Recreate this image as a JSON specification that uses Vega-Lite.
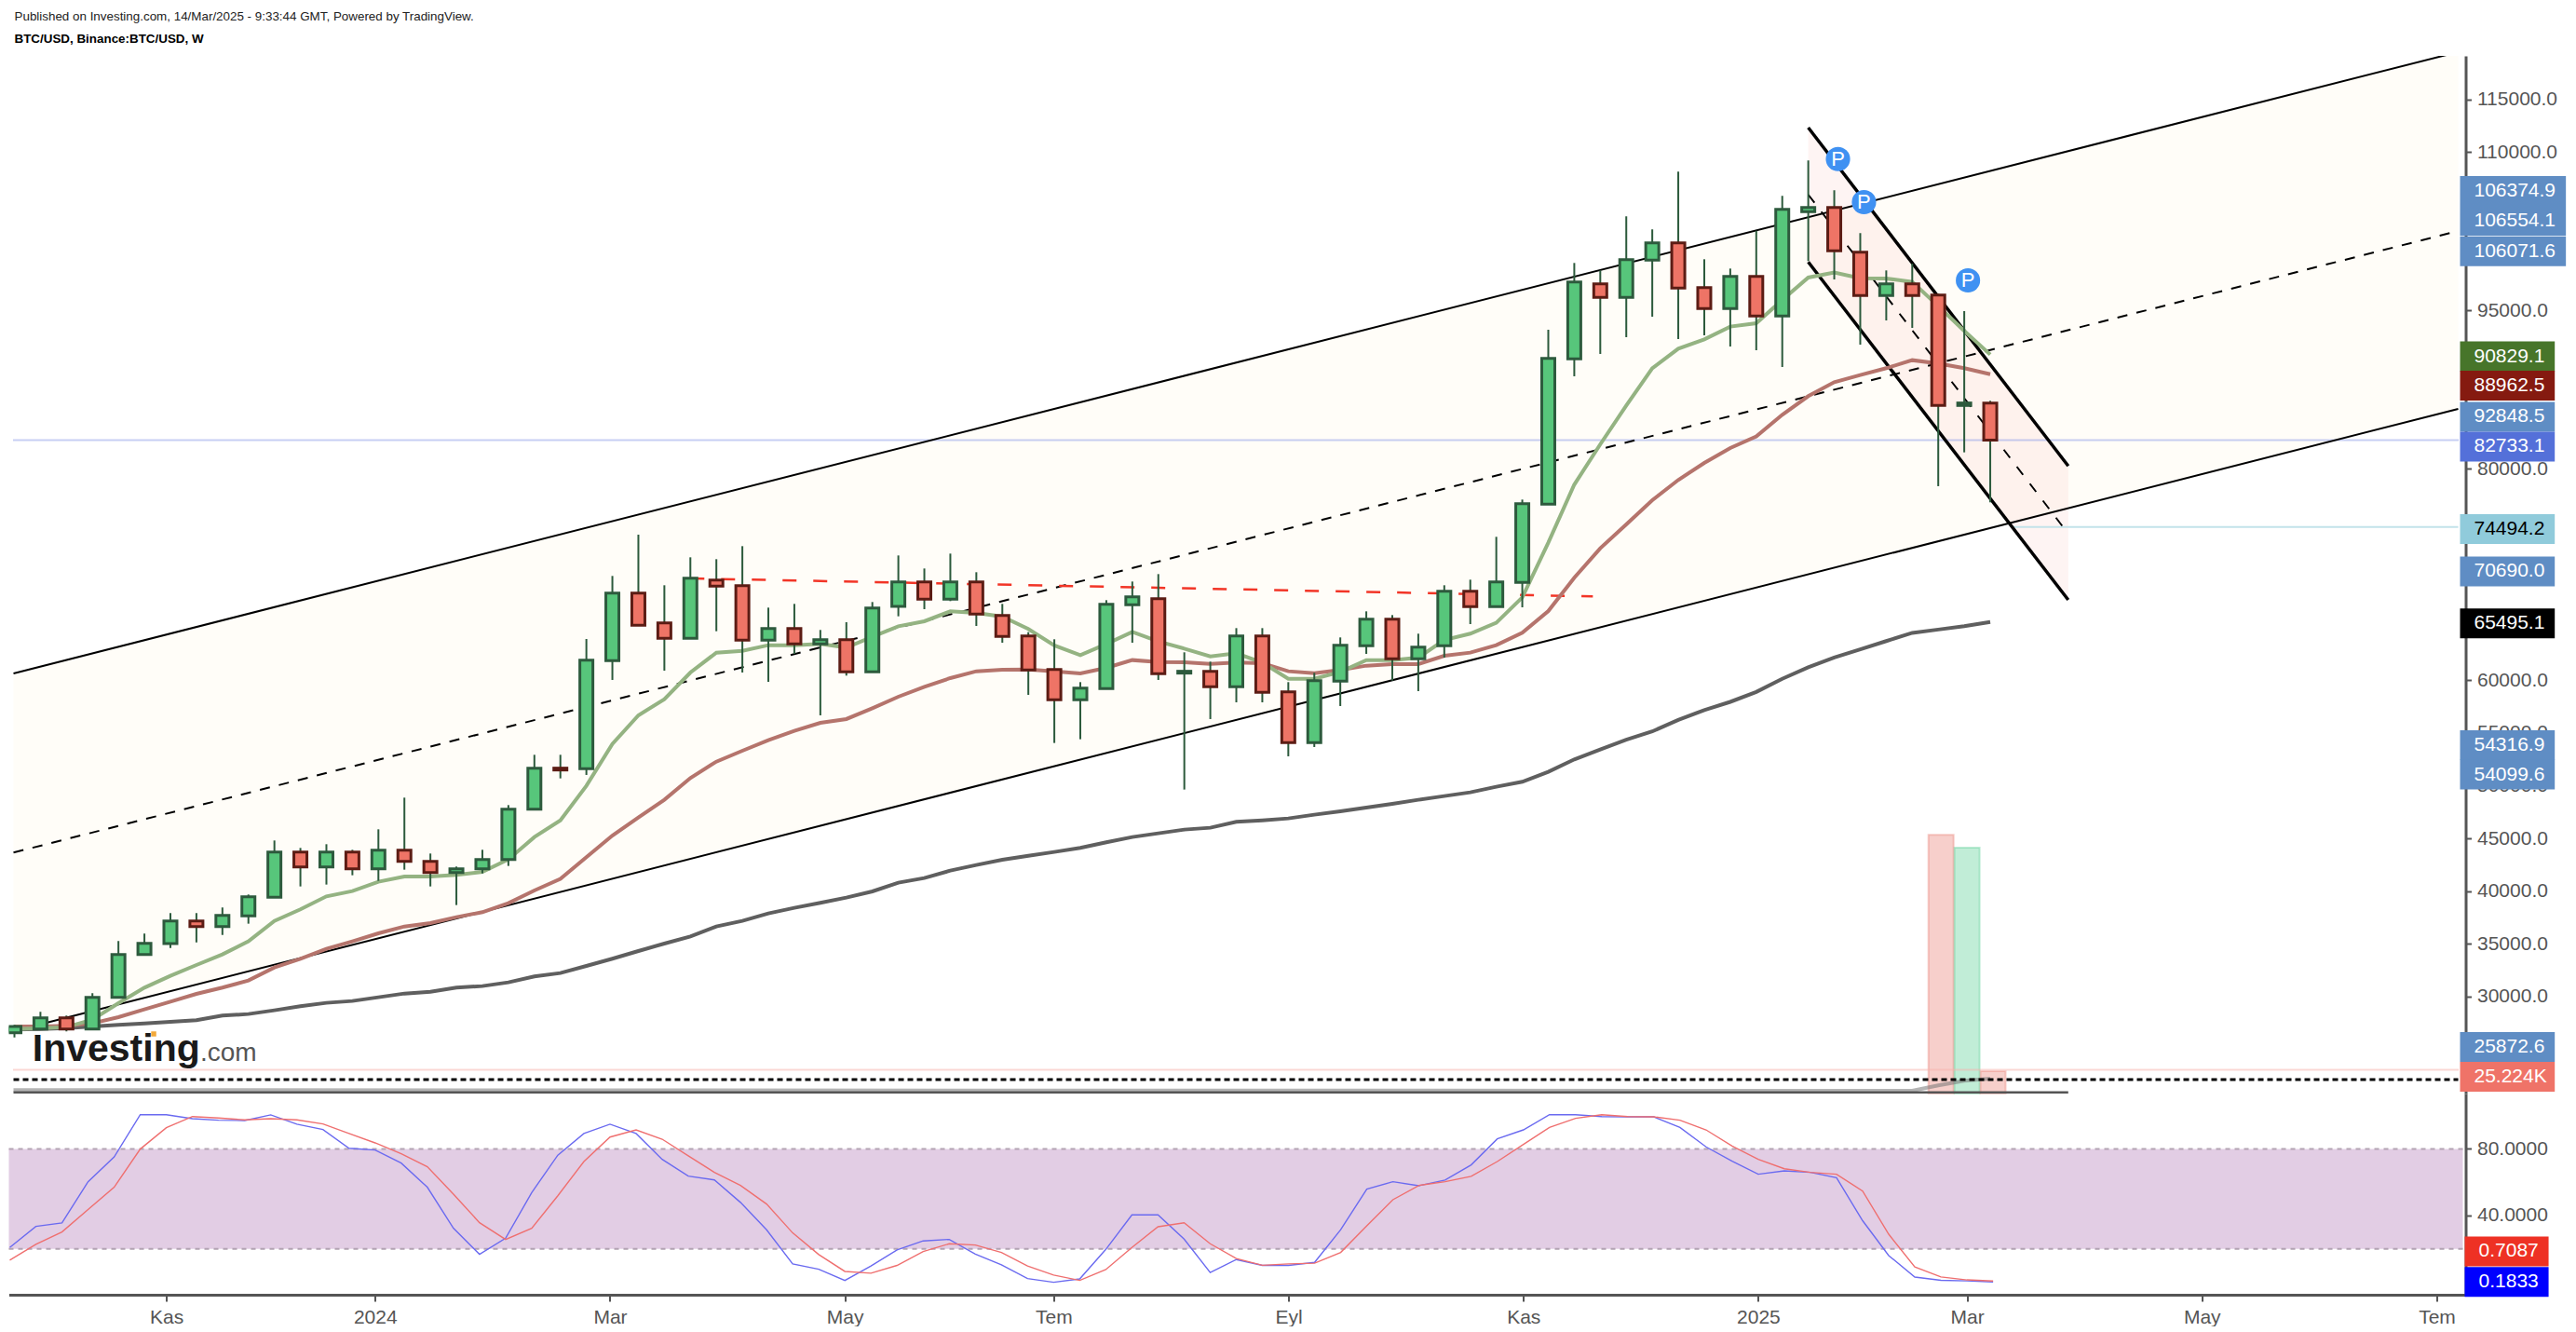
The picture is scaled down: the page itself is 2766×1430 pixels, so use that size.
{
  "$schema": "https://vega.github.io/schema/vega-lite/v6.json",
  "background": "white",
  "padding": {"left": 6.5, "top": 10, "right": 0, "bottom": 0},
  "bounds": "flush",
  "config": {"view": {"stroke": null}, "font": "Liberation Sans"},
  "title": {
    "text": "Published on Investing.com, 14/Mar/2025 - 9:33:44 GMT, Powered by TradingView.",
    "subtitle": "BTC/USD, Binance:BTC/USD, W",
    "anchor": "start", "frame": "group", "dx": 6, "offset": 11.5,
    "font": "Liberation Sans", "fontSize": 13.4, "fontWeight": "normal", "color": "#222222",
    "subtitleFont": "Liberation Sans", "subtitleFontSize": 13.4, "subtitleFontWeight": "bold", "subtitleColor": "#000000", "subtitlePadding": 11
  },
  "datasets": {
    "weeks": [
      {"date":"2023-09-25","o":26591,"h":27326,"l":26150,"c":27179,"ma20":26944,"ma50":27179,"ma200":26886,"k":20.9,"d":13.2},
      {"date":"2023-10-02","o":26944,"h":28562,"l":26944,"c":28003,"ma20":27003,"ma50":27179,"ma200":26944,"k":33.5,"d":22.7},
      {"date":"2023-10-09","o":28003,"h":28209,"l":26709,"c":26944,"ma20":27121,"ma50":27238,"ma200":27032,"k":35.6,"d":30.2},
      {"date":"2023-10-16","o":26944,"h":30326,"l":26944,"c":29944,"ma20":27826,"ma50":27473,"ma200":27179,"k":60.3,"d":43.6},
      {"date":"2023-10-23","o":29944,"h":35267,"l":29944,"c":34003,"ma20":29385,"ma50":28062,"ma200":27326,"k":75.2,"d":57},
      {"date":"2023-10-30","o":34003,"h":35973,"l":33944,"c":35061,"ma20":30855,"ma50":28797,"ma200":27473,"k":100.5,"d":79.9},
      {"date":"2023-11-06","o":35032,"h":37914,"l":34620,"c":37179,"ma20":31973,"ma50":29532,"ma200":27620,"k":100.5,"d":92.7},
      {"date":"2023-11-13","o":37179,"h":37914,"l":35150,"c":36649,"ma20":33002,"ma50":30267,"ma200":27768,"k":98.1,"d":99.4},
      {"date":"2023-11-20","o":36649,"h":38443,"l":35855,"c":37708,"ma20":34003,"ma50":30856,"ma200":28209,"k":97.2,"d":98.5},
      {"date":"2023-11-27","o":37649,"h":39679,"l":36914,"c":39473,"ma20":35248,"ma50":31532,"ma200":28356,"k":97,"d":97.4},
      {"date":"2023-12-04","o":39414,"h":44796,"l":39414,"c":43708,"ma20":37179,"ma50":32767,"ma200":28709,"k":100.4,"d":98.1},
      {"date":"2023-12-11","o":43708,"h":44090,"l":40443,"c":42296,"ma20":38267,"ma50":33591,"ma200":29093,"k":94.8,"d":97.4},
      {"date":"2023-12-18","o":42296,"h":44443,"l":40620,"c":43708,"ma20":39502,"ma50":34532,"ma200":29415,"k":91.6,"d":95},
      {"date":"2023-12-25","o":43708,"h":43914,"l":41502,"c":42120,"ma20":40002,"ma50":35238,"ma200":29591,"k":80.4,"d":89.2},
      {"date":"2024-01-01","o":42120,"h":45855,"l":40973,"c":43884,"ma20":40885,"ma50":36002,"ma200":29944,"k":79.3,"d":83.6},
      {"date":"2024-01-08","o":43884,"h":48855,"l":42031,"c":42826,"ma20":41384,"ma50":36649,"ma200":30297,"k":71.5,"d":77.1},
      {"date":"2024-01-15","o":42826,"h":43561,"l":40443,"c":41767,"ma20":41384,"ma50":36973,"ma200":30473,"k":57,"d":69.3},
      {"date":"2024-01-22","o":41767,"h":42326,"l":38679,"c":42120,"ma20":41532,"ma50":37532,"ma200":30855,"k":32.4,"d":52.9},
      {"date":"2024-01-29","o":42120,"h":43914,"l":41679,"c":43002,"ma20":41826,"ma50":38002,"ma200":31003,"k":16.8,"d":35.7},
      {"date":"2024-02-05","o":43002,"h":48149,"l":42384,"c":47766,"ma20":43002,"ma50":38855,"ma200":31355,"k":26.4,"d":25.7},
      {"date":"2024-02-12","o":47766,"h":52913,"l":47766,"c":51649,"ma20":45119,"ma50":40061,"ma200":31914,"k":53.8,"d":32.4},
      {"date":"2024-02-19","o":51649,"h":52913,"l":50678,"c":51472,"ma20":46707,"ma50":41149,"ma200":32238,"k":76.2,"d":51.9},
      {"date":"2024-02-26","o":51592,"h":63886,"l":51004,"c":61886,"ma20":49975,"ma50":43208,"ma200":32914,"k":89.2,"d":72.4},
      {"date":"2024-03-04","o":61827,"h":69856,"l":60004,"c":68238,"ma20":53945,"ma50":45267,"ma200":33591,"k":94.8,"d":87.1},
      {"date":"2024-03-11","o":68238,"h":73767,"l":65180,"c":65180,"ma20":56651,"ma50":46972,"ma200":34326,"k":89.2,"d":91.4},
      {"date":"2024-03-18","o":65415,"h":68974,"l":60886,"c":63944,"ma20":58180,"ma50":48649,"ma200":35032,"k":73.7,"d":85.8},
      {"date":"2024-03-25","o":63944,"h":71621,"l":63944,"c":69650,"ma20":60709,"ma50":50707,"ma200":35708,"k":63.7,"d":75.8},
      {"date":"2024-04-01","o":69474,"h":71444,"l":64621,"c":68885,"ma20":62592,"ma50":52266,"ma200":36649,"k":61.4,"d":65.9},
      {"date":"2024-04-08","o":68944,"h":72679,"l":60709,"c":63768,"ma20":62768,"ma50":53295,"ma200":37179,"k":47.9,"d":58.1},
      {"date":"2024-04-15","o":63768,"h":66856,"l":59827,"c":64886,"ma20":63297,"ma50":54295,"ma200":37885,"k":31.5,"d":46.9},
      {"date":"2024-04-22","o":64886,"h":67209,"l":62474,"c":63415,"ma20":63297,"ma50":55178,"ma200":38414,"k":11,"d":29.6},
      {"date":"2024-04-29","o":63415,"h":64739,"l":56651,"c":63827,"ma20":63415,"ma50":55945,"ma200":38885,"k":7.8,"d":16.6},
      {"date":"2024-05-06","o":63827,"h":65474,"l":60415,"c":60768,"ma20":63062,"ma50":56298,"ma200":39385,"k":1.1,"d":6.5},
      {"date":"2024-05-13","o":60768,"h":67385,"l":60709,"c":66827,"ma20":64092,"ma50":57327,"ma200":39973,"k":9.7,"d":5.4},
      {"date":"2024-05-20","o":66974,"h":71797,"l":66033,"c":69297,"ma20":65091,"ma50":58415,"ma200":40796,"k":19.4,"d":10.1},
      {"date":"2024-05-27","o":69297,"h":70562,"l":66709,"c":67650,"ma20":65562,"ma50":59357,"ma200":41237,"k":24.8,"d":18.4},
      {"date":"2024-06-03","o":67650,"h":71973,"l":67474,"c":69297,"ma20":66503,"ma50":60180,"ma200":41943,"k":25.7,"d":23.1},
      {"date":"2024-06-10","o":69297,"h":70209,"l":65120,"c":66238,"ma20":66356,"ma50":60827,"ma200":42473,"k":16.9,"d":22.3},
      {"date":"2024-06-17","o":66121,"h":67209,"l":63533,"c":64121,"ma20":66003,"ma50":60974,"ma200":42973,"k":10.4,"d":17.9},
      {"date":"2024-06-24","o":64180,"h":64533,"l":58592,"c":60945,"ma20":64827,"ma50":61003,"ma200":43355,"k":2.2,"d":9.7},
      {"date":"2024-07-01","o":61003,"h":63856,"l":54033,"c":58121,"ma20":63268,"ma50":60827,"ma200":43711,"k":0,"d":4.3},
      {"date":"2024-07-08","o":58121,"h":59798,"l":54386,"c":59239,"ma20":62356,"ma50":60621,"ma200":44093,"k":2,"d":1.1},
      {"date":"2024-07-15","o":59180,"h":67562,"l":59180,"c":67180,"ma20":63415,"ma50":61151,"ma200":44622,"k":19.7,"d":7.6},
      {"date":"2024-07-22","o":67121,"h":69327,"l":63533,"c":67885,"ma20":64562,"ma50":61886,"ma200":45122,"k":40.4,"d":20.9},
      {"date":"2024-07-29","o":67709,"h":70032,"l":60004,"c":60592,"ma20":63650,"ma50":61709,"ma200":45475,"k":40.4,"d":33.3},
      {"date":"2024-08-05","o":60651,"h":62621,"l":49622,"c":60827,"ma20":62974,"ma50":61680,"ma200":45828,"k":25.9,"d":35.7},
      {"date":"2024-08-12","o":60827,"h":61739,"l":56298,"c":59357,"ma20":62239,"ma50":61533,"ma200":46004,"k":5.8,"d":23.1},
      {"date":"2024-08-19","o":59357,"h":64915,"l":57886,"c":64180,"ma20":62533,"ma50":61651,"ma200":46563,"k":13.6,"d":14.2},
      {"date":"2024-08-26","o":64180,"h":64915,"l":57886,"c":58827,"ma20":61651,"ma50":61592,"ma200":46710,"k":10.1,"d":10.2},
      {"date":"2024-09-02","o":58886,"h":59798,"l":52769,"c":54063,"ma20":60121,"ma50":60827,"ma200":46887,"k":10.1,"d":11},
      {"date":"2024-09-09","o":54063,"h":60680,"l":53651,"c":59945,"ma20":60121,"ma50":60651,"ma200":47240,"k":11.9,"d":11.4},
      {"date":"2024-09-16","o":59886,"h":64033,"l":57533,"c":63297,"ma20":60768,"ma50":60945,"ma200":47563,"k":31.5,"d":17.9},
      {"date":"2024-09-23","o":63239,"h":66503,"l":62474,"c":65768,"ma20":61886,"ma50":61356,"ma200":47916,"k":55.9,"d":33.9},
      {"date":"2024-09-30","o":65768,"h":66150,"l":59945,"c":62003,"ma20":61886,"ma50":61503,"ma200":48269,"k":60.3,"d":49.5},
      {"date":"2024-10-07","o":62003,"h":64386,"l":58945,"c":63121,"ma20":62121,"ma50":61503,"ma200":48651,"k":57.9,"d":58.1},
      {"date":"2024-10-14","o":63239,"h":68974,"l":62121,"c":68415,"ma20":63797,"ma50":62298,"ma200":49004,"k":61.3,"d":60.3},
      {"date":"2024-10-21","o":68415,"h":69503,"l":65297,"c":66944,"ma20":64386,"ma50":62592,"ma200":49357,"k":70.4,"d":63.5},
      {"date":"2024-10-28","o":66944,"h":73562,"l":66944,"c":69297,"ma20":65415,"ma50":63297,"ma200":49887,"k":86,"d":72.4},
      {"date":"2024-11-04","o":69238,"h":77091,"l":66885,"c":76708,"ma20":67827,"ma50":64474,"ma200":50357,"k":91.4,"d":82.7},
      {"date":"2024-11-11","o":76653,"h":93182,"l":76653,"c":90476,"ma20":73006,"ma50":66533,"ma200":51298,"k":100.5,"d":92.9},
      {"date":"2024-11-18","o":90417,"h":99505,"l":88770,"c":97711,"ma20":78506,"ma50":69683,"ma200":52475,"k":100.5,"d":98.3},
      {"date":"2024-11-25","o":97534,"h":98799,"l":90888,"c":96240,"ma20":82329,"ma50":72477,"ma200":53415,"k":99.4,"d":100.5},
      {"date":"2024-12-02","o":96240,"h":103916,"l":92476,"c":99828,"ma20":86005,"ma50":74741,"ma200":54349,"k":99.2,"d":99.4},
      {"date":"2024-12-09","o":99769,"h":102681,"l":94417,"c":101416,"ma20":89535,"ma50":77035,"ma200":55127,"k":99.2,"d":99.2},
      {"date":"2024-12-16","o":101416,"h":108151,"l":92299,"c":97122,"ma20":91388,"ma50":78947,"ma200":56217,"k":92.9,"d":97.2},
      {"date":"2024-12-23","o":97181,"h":99858,"l":92652,"c":95181,"ma20":92270,"ma50":80565,"ma200":57151,"k":81.2,"d":91.4},
      {"date":"2024-12-30","o":95181,"h":98975,"l":91593,"c":98240,"ma20":93476,"ma50":81976,"ma200":57929,"k":72.6,"d":81.7},
      {"date":"2025-01-06","o":98240,"h":102563,"l":91240,"c":94476,"ma20":93799,"ma50":83064,"ma200":58863,"k":64.8,"d":73.7},
      {"date":"2025-01-13","o":94476,"h":105857,"l":89652,"c":104593,"ma20":96005,"ma50":85123,"ma200":60108,"k":66.8,"d":68.1},
      {"date":"2025-01-20","o":104357,"h":109210,"l":99681,"c":104769,"ma20":98122,"ma50":86888,"ma200":61198,"k":65.9,"d":65.9},
      {"date":"2025-01-27","o":104769,"h":106387,"l":97946,"c":100652,"ma20":98593,"ma50":88211,"ma200":62131,"k":62.7,"d":64.8},
      {"date":"2025-02-03","o":100534,"h":102328,"l":91770,"c":96417,"ma20":98064,"ma50":88888,"ma200":62910,"k":36.9,"d":54.7},
      {"date":"2025-02-10","o":96417,"h":98799,"l":94064,"c":97534,"ma20":98034,"ma50":89535,"ma200":63688,"k":16,"d":28.8},
      {"date":"2025-02-17","o":97534,"h":99446,"l":93358,"c":96417,"ma20":97711,"ma50":90299,"ma200":64467,"k":3.1,"d":9.2},
      {"date":"2025-02-24","o":96475,"h":96593,"l":78359,"c":86005,"ma20":95417,"ma50":89976,"ma200":64778,"k":1.2,"d":3.2},
      {"date":"2025-03-03","o":86005,"h":94946,"l":81565,"c":86241,"ma20":93064,"ma50":89535,"ma200":65089,"k":0.8,"d":1.4},
      {"date":"2025-03-10","o":86241,"h":86447,"l":76830,"c":82733,"ma20":90829,"ma50":88962,"ma200":65495,"k":0.18,"d":0.71}
    ],
    "channel": [
      {"date":"2023-09-24T18:00:00Z","upper":60619,"mid":43651,"lower":26735},
      {"date":"2025-07-14T00:00:00Z","upper":119494,"mid":102533,"lower":85679}
    ],
    "falling": [
      {"date":"2025-01-20","upper":112328,"mid":105975,"lower":99594},
      {"date":"2025-03-31","upper":80270,"mid":73855,"lower":67590}
    ],
    "resistance": [
      {"date":"2024-03-25","price":69620},
      {"date":"2024-11-23","price":67917}
    ],
    "levels": [
      {"name":"last","price":82733.1,"from":"2023-09-24T18:00:00Z","to":"2025-07-14T00:00:00Z"},
      {"name":"fib","price":74494.2,"from":"2025-03-16T00:00:00Z","to":"2025-07-14T00:00:00Z"}
    ],
    "pivots": [
      {"date":"2025-01-28","price":109354},
      {"date":"2025-02-04","price":105268},
      {"date":"2025-03-04","price":97857}
    ],
    "logo": [
      {"part":"name","label":"Investing","date":"2023-09-29T20:00:00Z","price":23911},
      {"part":"domain","label":".com","date":"2023-11-14T00:00:00Z","price":23911}
    ],
    "logoDot": [
      {"date":"2023-11-01T12:00:00Z","price":26470}
    ],
    "priceTags": [
      {"label":"106374.9","level":106328,"group":"pivot"},
      {"label":"106554.1","level":103504,"group":"pivot"},
      {"label":"106071.6","level":100620,"group":"pivot"},
      {"label":"90829.1","level":90656,"group":"ma20"},
      {"label":"88962.5","level":87895,"group":"ma50"},
      {"label":"92848.5","level":84938,"group":"pivot"},
      {"label":"82733.1","level":82106,"group":"last"},
      {"label":"74494.2","level":74306,"group":"fib"},
      {"label":"70690.0","level":70291,"group":"pivot"},
      {"label":"65495.1","level":65366,"group":"ma200"},
      {"label":"54316.9","level":53834,"group":"pivot"},
      {"label":"54099.6","level":51036,"group":"pivot"},
      {"label":"25872.6","level":25235,"group":"pivot"},
      {"label":"25.224K","level":22411,"group":"volume"}
    ],
    "volumes": [
      {"date":"2025-02-24T18:00:00Z","volume":292000,"side":"down"},
      {"date":"2025-03-03T18:00:00Z","volume":277500,"side":"up"},
      {"date":"2025-03-10T18:00:00Z","volume":25224,"side":"down"}
    ],
    "volumeAvg": [
      {"date":"2023-09-24T18:00:00Z","avg":3900},
      {"date":"2025-02-17","avg":3153},
      {"date":"2025-02-24","avg":9144},
      {"date":"2025-03-03","avg":14399},
      {"date":"2025-03-10","avg":16816}
    ],
    "volumeLevels": [
      {"name":"current","value":26800,"from":"2023-09-24T18:00:00Z","to":"2025-07-14T00:00:00Z"},
      {"name":"average","value":15760,"from":"2023-09-24T18:00:00Z","to":"2025-07-14T00:00:00Z"},
      {"name":"base","value":1300,"from":"2023-09-24T18:00:00Z","to":"2025-03-31T00:00:00Z"}
    ],
    "band": [
      {"from":"2023-09-24T18:00:00Z","to":"2025-07-14T00:00:00Z","lo":20,"hi":80}
    ],
    "oscTags": [
      {"label":"0.7087","level":18.5,"group":"d"},
      {"label":"0.1833","level":0.18,"group":"k"}
    ]
  },
  "spacing": 0,
  "resolve": {"scale": {"color": "independent"}},
  "vconcat": [
    {
      "width": 2638,
      "height": 1114,
      "resolve": {"scale": {"y": "independent"}},
      "layer": [
        {
          "encoding": {
            "x": {
              "field": "date", "type": "temporal", "axis": null,
              "scale": {
                "type": "utc",
                "domain": [
                  {"year":2023,"month":9,"date":24,"hours":18,"utc":true},
                  {"year":2025,"month":7,"date":14,"hours":18,"utc":true}
                ]
              }
            }
          },
          "layer": [
            {
              "data": {"name": "channel"},
              "mark": {"type": "area", "color": "#fffdf8", "clip": true},
              "encoding": {
                "y": {
                  "field": "upper", "type": "quantitative", "title": null,
                  "scale": {"domain": [20823, 119122], "zero": false, "nice": false},
                  "axis": {
                    "orient": "right", "grid": false,
                    "values": [30000,35000,40000,45000,50000,55000,60000,80000,95000,100000,110000,115000],
                    "format": ".1f",
                    "labelFont": "Liberation Sans", "labelFontSize": 21, "labelColor": "#555555", "labelPadding": 6, "labelOverlap": false, "labelFlush": false,
                    "domainColor": "#555555", "domainWidth": 3, "tickColor": "#555555", "tickWidth": 2, "tickSize": 6
                  }
                },
                "y2": {"field": "lower"}
              }
            },
            {
              "data": {"name": "falling"},
              "mark": {"type": "area", "color": "#f7c4bb", "opacity": 0.18, "clip": true},
              "encoding": {"y": {"field": "upper", "type": "quantitative"}, "y2": {"field": "lower"}}
            },
            {
              "data": {"name": "levels"},
              "transform": [{"filter": "datum.name === 'last'"}],
              "mark": {"type": "rule", "color": "#8f9fe8", "strokeWidth": 2, "strokeDash": [1, 1], "clip": true},
              "encoding": {"x": {"field": "from", "type": "temporal"}, "x2": {"field": "to"}, "y": {"field": "price", "type": "quantitative"}}
            },
            {
              "data": {"name": "levels"},
              "transform": [{"filter": "datum.name === 'fib'"}],
              "mark": {"type": "rule", "color": "#c3e3ea", "strokeWidth": 2, "clip": true},
              "encoding": {"x": {"field": "from", "type": "temporal"}, "x2": {"field": "to"}, "y": {"field": "price", "type": "quantitative"}}
            },
            {
              "data": {"name": "channel"},
              "mark": {"type": "line", "color": "#000000", "strokeWidth": 2, "clip": true},
              "encoding": {"y": {"field": "upper", "type": "quantitative"}}
            },
            {
              "data": {"name": "channel"},
              "mark": {"type": "line", "color": "#000000", "strokeWidth": 2, "clip": true},
              "encoding": {"y": {"field": "lower", "type": "quantitative"}}
            },
            {
              "data": {"name": "channel"},
              "mark": {"type": "line", "color": "#000000", "strokeWidth": 2, "strokeDash": [11, 10], "clip": true},
              "encoding": {"y": {"field": "mid", "type": "quantitative"}}
            },
            {
              "data": {"name": "resistance"},
              "mark": {"type": "line", "color": "#f23527", "strokeWidth": 2.5, "strokeDash": [15, 18], "clip": true},
              "encoding": {"y": {"field": "price", "type": "quantitative"}}
            },
            {
              "data": {"name": "falling"},
              "mark": {"type": "line", "color": "#000000", "strokeWidth": 3.5, "clip": true},
              "encoding": {"y": {"field": "upper", "type": "quantitative"}}
            },
            {
              "data": {"name": "falling"},
              "mark": {"type": "line", "color": "#000000", "strokeWidth": 3.5, "clip": true},
              "encoding": {"y": {"field": "lower", "type": "quantitative"}}
            },
            {
              "data": {"name": "falling"},
              "mark": {"type": "line", "color": "#000000", "strokeWidth": 2, "strokeDash": [11, 12], "clip": true},
              "encoding": {"y": {"field": "mid", "type": "quantitative"}}
            },
            {
              "data": {"name": "weeks"},
              "mark": {"type": "line", "color": "#5f5f5f", "strokeWidth": 4, "clip": true},
              "encoding": {"y": {"field": "ma200", "type": "quantitative"}}
            },
            {
              "data": {"name": "weeks"},
              "mark": {"type": "line", "color": "#b5746c", "strokeWidth": 4, "clip": true},
              "encoding": {"y": {"field": "ma50", "type": "quantitative"}}
            },
            {
              "data": {"name": "weeks"},
              "mark": {"type": "line", "color": "#94b382", "strokeWidth": 4, "clip": true},
              "encoding": {"y": {"field": "ma20", "type": "quantitative"}}
            },
            {
              "data": {"name": "weeks"},
              "mark": {"type": "rule", "color": "#2c5a3c", "strokeWidth": 2, "clip": true},
              "encoding": {"y": {"field": "l", "type": "quantitative"}, "y2": {"field": "h"}}
            },
            {
              "data": {"name": "weeks"},
              "mark": {"type": "bar", "width": 14, "strokeWidth": 3, "clip": true},
              "encoding": {
                "y": {"field": "o", "type": "quantitative"},
                "y2": {"field": "c"},
                "fill": {"condition": {"test": "datum.c >= datum.o", "value": "#57c67b"}, "value": "#ee7466"},
                "stroke": {"condition": {"test": "datum.c >= datum.o", "value": "#2d5a3d"}, "value": "#5c1c14"}
              }
            },
            {
              "data": {"name": "pivots"},
              "mark": {"type": "point", "shape": "circle", "filled": true, "size": 683, "color": "#3f91f2", "opacity": 1},
              "encoding": {"y": {"field": "price", "type": "quantitative"}}
            },
            {
              "data": {"name": "pivots"},
              "mark": {"type": "text", "text": "P", "color": "#ffffff", "font": "Liberation Sans", "fontSize": 22},
              "encoding": {"y": {"field": "price", "type": "quantitative"}}
            },
            {
              "data": {"name": "logo"},
              "transform": [{"filter": "datum.part === 'name'"}],
              "mark": {"type": "text", "align": "left", "baseline": "alphabetic", "color": "#1a1a1a", "font": "Liberation Sans", "fontWeight": "bold", "fontSize": 41},
              "encoding": {"y": {"field": "price", "type": "quantitative"}, "text": {"field": "label"}}
            },
            {
              "data": {"name": "logo"},
              "transform": [{"filter": "datum.part === 'domain'"}],
              "mark": {"type": "text", "align": "left", "baseline": "alphabetic", "color": "#555555", "font": "Liberation Sans", "fontSize": 28},
              "encoding": {"y": {"field": "price", "type": "quantitative"}, "text": {"field": "label"}}
            },
            {
              "data": {"name": "logoDot"},
              "mark": {"type": "point", "shape": "square", "filled": true, "size": 30, "color": "#f2a93b", "opacity": 1},
              "encoding": {"y": {"field": "price", "type": "quantitative"}}
            },
            {
              "data": {"name": "priceTags"},
              "transform": [
                {"filter": "length(datum.label) >= 8"},
                {"calculate": "utc(2025, 6, 14, 12)", "as": "tagStart"},
                {"calculate": "utc(2025, 7, 12)", "as": "tagEnd"}
              ],
              "mark": {"type": "rule", "strokeWidth": 32, "strokeCap": "butt", "clip": false},
              "encoding": {
                "x": {"field": "tagStart", "type": "temporal"},
                "x2": {"field": "tagEnd"},
                "y": {"field": "level", "type": "quantitative"},
                "color": {
                  "field": "group", "type": "nominal", "legend": null,
                  "scale": {
                    "domain": ["pivot","ma20","ma50","last","fib","ma200","volume"],
                    "range": ["#5f8dc4","#47752a","#851a10","#5470d9","#90cbdb","#000000","#ef7368"]
                  }
                }
              }
            },
            {
              "data": {"name": "priceTags"},
              "transform": [
                {"filter": "length(datum.label) < 8"},
                {"calculate": "utc(2025, 6, 14, 12)", "as": "tagStart"},
                {"calculate": "utc(2025, 7, 9)", "as": "tagEnd"}
              ],
              "mark": {"type": "rule", "strokeWidth": 32, "strokeCap": "butt", "clip": false},
              "encoding": {
                "x": {"field": "tagStart", "type": "temporal"},
                "x2": {"field": "tagEnd"},
                "y": {"field": "level", "type": "quantitative"},
                "color": {"field": "group", "type": "nominal", "legend": null}
              }
            },
            {
              "data": {"name": "priceTags"},
              "transform": [{"calculate": "utc(2025, 6, 18, 6)", "as": "textAt"}],
              "mark": {"type": "text", "align": "left", "baseline": "middle", "font": "Liberation Sans", "fontSize": 21, "clip": false},
              "encoding": {
                "x": {"field": "textAt", "type": "temporal"},
                "y": {"field": "level", "type": "quantitative"},
                "text": {"field": "label"},
                "color": {"condition": {"test": "datum.group === 'fib'", "value": "#000000"}, "value": "#ffffff"}
              }
            }
          ]
        },
        {
          "encoding": {
            "x": {"field": "date", "type": "temporal"}
          },
          "layer": [
            {
              "data": {"name": "volumes"},
              "mark": {"type": "bar", "width": 27, "strokeWidth": 2, "fillOpacity": 0.35, "strokeOpacity": 0.35},
              "encoding": {
                "y": {
                  "field": "volume", "type": "quantitative", "axis": null,
                  "scale": {"domain": [0, 1170800], "nice": false}
                },
                "fill": {"condition": {"test": "datum.side === 'up'", "value": "#4ecb8d"}, "value": "#e8756a"},
                "stroke": {"condition": {"test": "datum.side === 'up'", "value": "#4ecb8d"}, "value": "#e8756a"}
              }
            },
            {
              "data": {"name": "volumeAvg"},
              "mark": {"type": "line", "color": "#777777", "strokeWidth": 4, "opacity": 0.55},
              "encoding": {"y": {"field": "avg", "type": "quantitative"}}
            },
            {
              "data": {"name": "volumeLevels"},
              "transform": [{"filter": "datum.name === 'current'"}],
              "mark": {"type": "rule", "color": "#f7b0aa", "strokeWidth": 2, "strokeDash": [1, 1]},
              "encoding": {"x": {"field": "from", "type": "temporal"}, "x2": {"field": "to"}, "y": {"field": "value", "type": "quantitative"}}
            },
            {
              "data": {"name": "volumeLevels"},
              "transform": [{"filter": "datum.name === 'average'"}],
              "mark": {"type": "rule", "color": "#000000", "strokeWidth": 3, "strokeDash": [6, 4]},
              "encoding": {"x": {"field": "from", "type": "temporal"}, "x2": {"field": "to"}, "y": {"field": "value", "type": "quantitative"}}
            },
            {
              "data": {"name": "volumeLevels"},
              "transform": [{"filter": "datum.name === 'base'"}],
              "mark": {"type": "rule", "color": "#555555", "strokeWidth": 2.5},
              "encoding": {"x": {"field": "from", "type": "temporal"}, "x2": {"field": "to"}, "y": {"field": "value", "type": "quantitative"}}
            }
          ]
        }
      ]
    },
    {
      "width": 2638,
      "height": 216,
      "encoding": {
        "x": {
          "field": "date", "type": "temporal", "title": null,
          "scale": {
            "type": "utc",
            "domain": [
              {"year":2023,"month":9,"date":24,"hours":18,"utc":true},
              {"year":2025,"month":7,"date":14,"hours":18,"utc":true}
            ]
          },
          "axis": {
            "grid": false,
            "values": [
              {"year":2023,"month":11,"date":6,"utc":true},
              {"year":2024,"month":1,"date":1,"utc":true},
              {"year":2024,"month":3,"date":4,"utc":true},
              {"year":2024,"month":5,"date":6,"utc":true},
              {"year":2024,"month":7,"date":1,"utc":true},
              {"year":2024,"month":9,"date":2,"utc":true},
              {"year":2024,"month":11,"date":4,"utc":true},
              {"year":2025,"month":1,"date":6,"utc":true},
              {"year":2025,"month":3,"date":3,"utc":true},
              {"year":2025,"month":5,"date":5,"utc":true},
              {"year":2025,"month":7,"date":7,"utc":true}
            ],
            "labelExpr": "utcmonth(datum.value) === 0 ? '' + utcyear(datum.value) : ['','','Mar','','May','','Tem','','Eyl','','Kas',''][utcmonth(datum.value)]",
            "labelFont": "Liberation Sans", "labelFontSize": 21, "labelColor": "#555555", "labelPadding": 6, "labelOverlap": false, "labelFlush": false,
            "domainColor": "#555555", "domainWidth": 3, "tickColor": "#555555", "tickWidth": 2, "tickSize": 7
          }
        }
      },
      "layer": [
        {
          "data": {"name": "band"},
          "mark": {"type": "rect", "color": "#e2cde4", "opacity": 1},
          "encoding": {
            "x": {"field": "from", "type": "temporal"},
            "x2": {"field": "to"},
            "y": {
              "field": "lo", "type": "quantitative", "title": null,
              "scale": {"domain": [-7.5, 113.2], "zero": false, "nice": false},
              "axis": {
                "orient": "right", "grid": false, "values": [40, 80], "format": ".4f",
                "labelFont": "Liberation Sans", "labelFontSize": 21, "labelColor": "#555555", "labelPadding": 6, "labelOverlap": false, "labelFlush": false,
                "domainColor": "#555555", "domainWidth": 3, "tickColor": "#555555", "tickWidth": 2, "tickSize": 6
              }
            },
            "y2": {"field": "hi"}
          }
        },
        {
          "data": {"name": "band"},
          "mark": {"type": "rule", "color": "#b3a3b3", "strokeWidth": 2, "strokeDash": [5, 5]},
          "encoding": {"x": {"field": "from", "type": "temporal"}, "x2": {"field": "to"}, "y": {"field": "lo", "type": "quantitative"}}
        },
        {
          "data": {"name": "band"},
          "mark": {"type": "rule", "color": "#b3a3b3", "strokeWidth": 2, "strokeDash": [5, 5]},
          "encoding": {"x": {"field": "from", "type": "temporal"}, "x2": {"field": "to"}, "y": {"field": "hi", "type": "quantitative"}}
        },
        {
          "data": {"name": "weeks"},
          "mark": {"type": "line", "color": "#6a6af0", "strokeWidth": 1.4},
          "encoding": {"y": {"field": "k", "type": "quantitative"}}
        },
        {
          "data": {"name": "weeks"},
          "mark": {"type": "line", "color": "#ef6f6f", "strokeWidth": 1.4},
          "encoding": {"y": {"field": "d", "type": "quantitative"}}
        },
        {
          "data": {"name": "oscTags"},
          "transform": [
            {"calculate": "utc(2025, 6, 14, 12)", "as": "tagStart"},
            {"calculate": "utc(2025, 7, 6)", "as": "tagEnd"}
          ],
          "mark": {"type": "rule", "strokeWidth": 32, "strokeCap": "butt", "clip": false},
          "encoding": {
            "x": {"field": "tagStart", "type": "temporal"},
            "x2": {"field": "tagEnd"},
            "y": {"field": "level", "type": "quantitative"},
            "color": {"field": "group", "type": "nominal", "legend": null, "scale": {"domain": ["d", "k"], "range": ["#ee3124", "#0000ff"]}}
          }
        },
        {
          "data": {"name": "oscTags"},
          "transform": [{"calculate": "utc(2025, 6, 18, 6)", "as": "textAt"}],
          "mark": {"type": "text", "align": "left", "baseline": "middle", "color": "#ffffff", "font": "Liberation Sans", "fontSize": 21, "clip": false},
          "encoding": {
            "x": {"field": "textAt", "type": "temporal"},
            "y": {"field": "level", "type": "quantitative"},
            "text": {"field": "label"}
          }
        }
      ]
    }
  ]
}
